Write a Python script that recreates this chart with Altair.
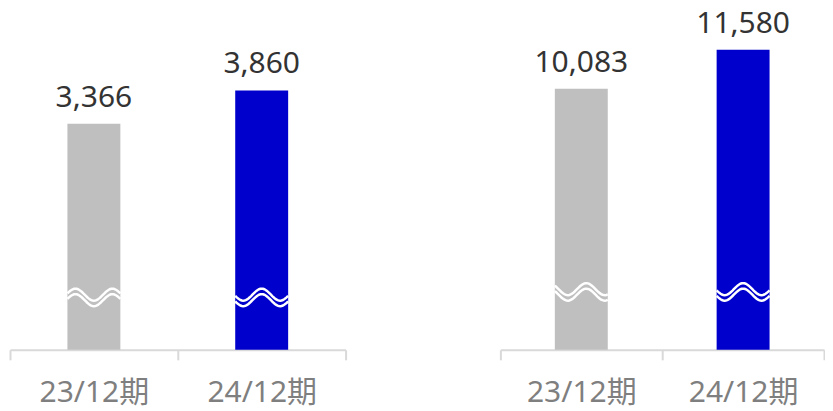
import math
import altair as alt
import pandas as pd

periods = ["23/12期", "24/12期"]
left_values = [3366, 3860]
right_values = [10083, 11580]
bar_colors = ["#bfbfbf", "#0000cc"]
left_break = [780, 780]
right_break = [2236, 2236]

FONT = "Noto Sans, Noto Sans CJK JP"
BAR_W = 53


def wave_path(phase_px, sign):
    # decorative double wavy "axis break" glyph in unit box [-1, 1]
    s = BAR_W / 2.0
    amp = 6.0 / s
    per = 37.0 / s
    off = 2.75 / s
    parts = []
    for o in (-off, off):
        pts = []
        n = 40
        for i in range(n + 1):
            x = -1 + 2 * i / n
            y = sign * amp * math.cos(2 * math.pi * (x - phase_px / s) / per) + o
            pts.append(f"{x:.3f},{y:.3f}")
        parts.append("M" + " L".join(pts))
    return " ".join(parts)


def panel(values, brk, ymax, shapes, width):
    df = pd.DataFrame({"period": periods, "value": values, "brk": brk, "color": bar_colors})
    x = alt.X(
        "period:N",
        sort=periods,
        scale=alt.Scale(paddingInner=0, paddingOuter=0),
        axis=alt.Axis(
            title=None,
            labelAngle=0,
            labelFont=FONT,
            labelFontSize=30,
            labelColor="#7f7f7f",
            labelBaseline="alphabetic",
            labelPadding=42,
            tickBand="extent",
            tickSize=10,
            tickWidth=2,
            tickColor="#d9d9d9",
            domainColor="#d9d9d9",
            domainWidth=2,
            grid=False,
        ),
    )
    yscale = alt.Scale(domain=[0, ymax], nice=False, zero=True)
    base = alt.Chart(df)
    bars = base.mark_bar(width=BAR_W).encode(
        x=x,
        y=alt.Y("value:Q", scale=yscale, axis=None),
        color=alt.Color("color:N", scale=None, legend=None),
    )
    labels = base.mark_text(
        dy=-17, baseline="alphabetic", fontSize=30, font=FONT, color="#333333"
    ).encode(
        x=x,
        y=alt.Y("value:Q", scale=yscale, axis=None),
        text=alt.Text("value:Q", format=","),
    )
    layers = [bars, labels]
    for i, shp in enumerate(shapes):
        w = alt.Chart(df.iloc[[i]]).mark_point(
            shape=shp,
            size=BAR_W * BAR_W,
            filled=False,
            stroke="white",
            strokeWidth=2.5,
            opacity=1,
        ).encode(
            x=x,
            y=alt.Y("brk:Q", scale=yscale, axis=None),
        )
        layers.append(w)
    return alt.layer(*layers).properties(width=width, height=342)


left = panel(left_values, left_break, 5083, [wave_path(0, 1), wave_path(0, -1)], 336)
right = panel(right_values, right_break, 13187, [wave_path(5, -1), wave_path(0, -1)], 324)

chart = (
    alt.hconcat(left, right, spacing=153)
    .properties(padding={"left": 1, "top": 0, "right": 0, "bottom": 4})
    .configure_view(stroke=None)
)

chart.save("out.html", embed_options={"renderer": "svg", "actions": False})
